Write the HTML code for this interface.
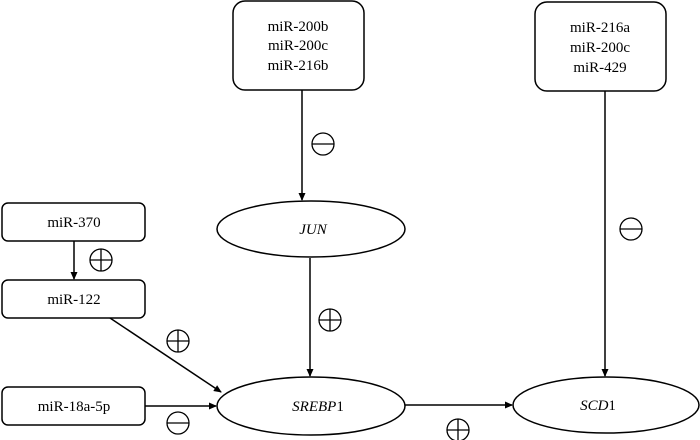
<!DOCTYPE html>
<html><head><meta charset="utf-8"><style>body{margin:0;background:#fff}svg{display:block}</style></head><body>
<svg width="700" height="440" viewBox="0 0 700 440" xmlns="http://www.w3.org/2000/svg" font-family="Liberation Serif, serif" font-size="15">
<defs><marker id="a" markerWidth="8" markerHeight="8" refX="7" refY="4" orient="auto" markerUnits="userSpaceOnUse"><path d="M0,0.5 L8,4 L0,7.5z" fill="#000"/></marker></defs>
<g fill="none" stroke="#000" stroke-width="1.5">
<rect x="2" y="203" width="143" height="38" rx="6"/>
<rect x="2" y="280" width="143" height="38" rx="6"/>
<rect x="2" y="387" width="143" height="38" rx="6"/>
<rect x="233" y="1" width="131" height="89" rx="12"/>
<rect x="535" y="2" width="131" height="89" rx="12"/>
<ellipse cx="311" cy="229" rx="94" ry="28"/>
<ellipse cx="311" cy="406" rx="94" ry="29"/>
<ellipse cx="606" cy="405" rx="93" ry="28"/>
<line x1="74" y1="241" x2="74" y2="279" marker-end="url(#a)"/>
<line x1="110" y1="318" x2="221" y2="392" marker-end="url(#a)"/>
<line x1="145" y1="406" x2="216" y2="406" marker-end="url(#a)"/>
<line x1="302" y1="90" x2="302" y2="200" marker-end="url(#a)"/>
<line x1="310" y1="258" x2="310" y2="376" marker-end="url(#a)"/>
<line x1="605" y1="91" x2="605" y2="376" marker-end="url(#a)"/>
<line x1="405" y1="405" x2="512" y2="405" marker-end="url(#a)"/>
<g stroke-width="1.3">
<circle cx="101" cy="260" r="11"/><path d="M90,260h22M101,249v22"/>
<circle cx="178" cy="341" r="11"/><path d="M167,341h22M178,330v22"/>
<circle cx="330" cy="320" r="11"/><path d="M319,320h22M330,309v22"/>
<circle cx="458" cy="430" r="11"/><path d="M447,430h22M458,419v22"/>
<circle cx="178" cy="423" r="11"/><path d="M167,423h22"/>
<circle cx="323" cy="144" r="11"/><path d="M312,144h22"/>
<circle cx="631" cy="229" r="11"/><path d="M620,229h22"/>
</g>
</g>
<g fill="#000" text-anchor="middle">
<text x="74" y="227">miR-370</text>
<text x="74" y="304">miR-122</text>
<text x="74" y="411">miR-18a-5p</text>
<text x="298" y="31">miR-200b</text>
<text x="298" y="50">miR-200c</text>
<text x="298" y="70">miR-216b</text>
<text x="600" y="32">miR-216a</text>
<text x="600" y="52">miR-200c</text>
<text x="600" y="72">miR-429</text>
<text x="313" y="234" font-style="italic">JUN</text>
<text x="318" y="411"><tspan font-style="italic">SREBP</tspan>1</text>
<text x="598" y="410"><tspan font-style="italic">SCD</tspan>1</text>
</g>
</svg>
</body></html>
